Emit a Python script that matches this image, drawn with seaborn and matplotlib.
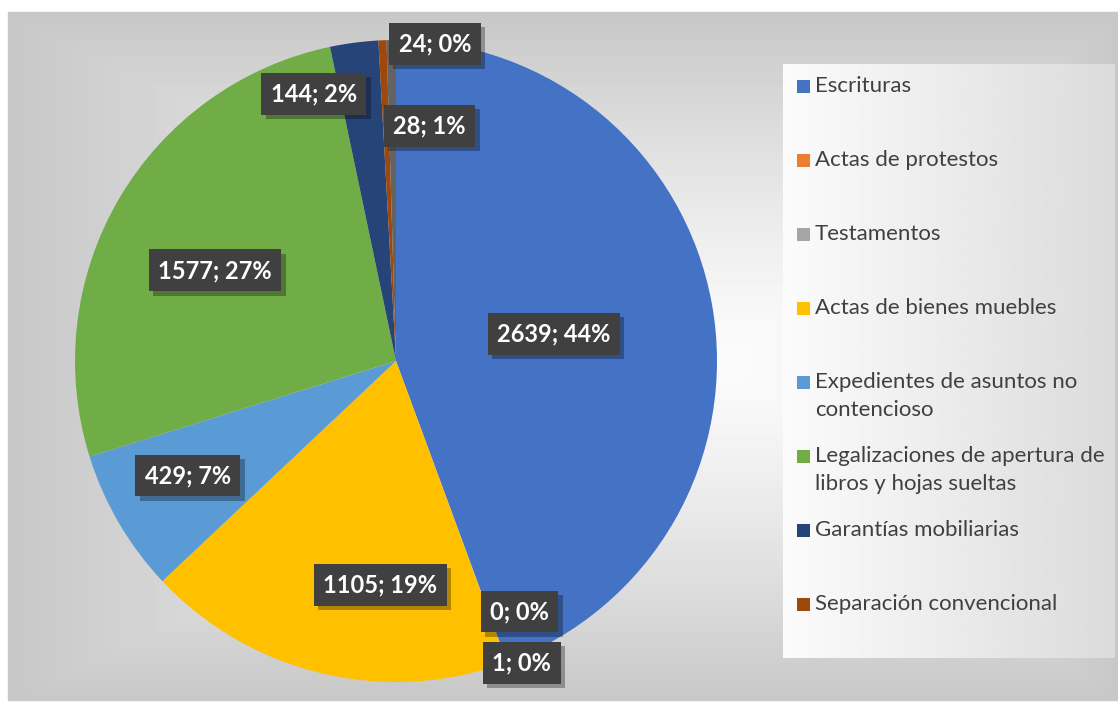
import numpy as np
import matplotlib
matplotlib.use("Agg")
import matplotlib.pyplot as plt
import matplotlib.patheffects as pe
from matplotlib.patches import Rectangle
import seaborn as sns

# datos
categorias = ["Escrituras", "Actas de protestos", "Testamentos", "Actas de bienes muebles",
              "Expedientes de asuntos no\ncontencioso",
              "Legalizaciones de apertura de\nlibros y hojas sueltas",
              "Garantías mobiliarias", "Separación convencional", "Otros"]
valores = [2639, 0, 1, 1105, 429, 1577, 144, 24, 28]
colores = ["#4472C4", "#ED7D31", "#A5A5A5", "#FFC000", "#5B9BD5",
           "#70AD47", "#264478", "#9E480E", "#636363"]
n_leyenda = 8  # la leyenda del original solo muestra 8

# ajuste de etiquetas (estilo "best fit" de Excel): radio y giro en grados
lab_r = [0.50, 0.87, 1.02, 0.70, 0.74, 0.63, 0.87, 0.995, 0.74]
lab_giro = [-0.3, 6.0, 2.4, 9.2, -1.5, 3.8, 9.6, -9.4, -9.0]

# porcentajes redondeados como Excel (suman 100)
vals = np.array(valores, dtype=float)
raw = vals / vals.sum() * 100
pct = np.floor(raw).astype(int)
resto = raw - pct
for k in np.argsort(-resto)[:100 - pct.sum()]:
    pct[k] += 1

sns.set_theme(style="white")
plt.rcParams['font.family'] = ['Lato', 'DejaVu Sans']

W, H = 1118, 704
fig = plt.figure(figsize=(W / 100, H / 100), dpi=100)
fig.patch.set_facecolor("white")

# fondo
bg = fig.add_axes([0, 0, 1, 1])
bg.set_xlim(0, W)
bg.set_ylim(H, 0)
bg.axis("off")
x0, x1, y0, y1 = 8, 1118, 12, 700
cx, cy = 730, 360
xx, yy = np.meshgrid(np.arange(x0, x1), np.arange(y0, y1))
dx = np.where(xx < cx, (cx - xx) / (cx - x0), (xx - cx) / (x1 - cx))
dy = np.where(yy < cy, (cy - yy) / (cy - y0), (yy - cy) / (y1 - cy))
d = np.clip(np.maximum(dx, dy), 0, 1) ** 1.3
grad = 0.985 - (0.985 - 0.78) * d
bg.imshow(grad, cmap="gray", vmin=0, vmax=1, extent=[x0, x1, y1, y0],
          aspect="auto", interpolation="bilinear")
bg.add_patch(Rectangle((x0, y0), x1 - x0, y1 - y0, fill=False, edgecolor="#c8c8c8", lw=1))

# caja de leyenda
lx0, lx1, ly0, ly1 = 783, 1115, 64, 658
lg = np.tile(np.linspace(0.985, 0.86, 200), (10, 1))
bg.imshow(lg, cmap="gray", vmin=0, vmax=1, extent=[lx0, lx1, ly1, ly0],
          aspect="auto", interpolation="bilinear", zorder=2)
for i in range(n_leyenda):
    yc = 86 + 74 * i
    bg.add_patch(Rectangle((797, yc - 6.5), 13, 13, facecolor=colores[i],
                           edgecolor="none", zorder=3))
    for k, linea in enumerate(categorias[i].split("\n")):
        bg.text(815, yc + 28 * k, linea, fontsize=16, color="#404040",
                va="center", ha="left", zorder=3)

# pastel
r_px = 321
ax = fig.add_axes([(396 - r_px) / W, (H - 361 - r_px) / H, 2 * r_px / W, 2 * r_px / H])
ax.set_facecolor("none")
wedges, _ = ax.pie(valores, colors=sns.color_palette(colores), startangle=90,
                   counterclock=False, radius=1, wedgeprops=dict(linewidth=0))
ax.set_xlim(-1, 1)
ax.set_ylim(-1, 1)
ax.set_aspect("equal")
ax.axis("off")

for i, w in enumerate(wedges):
    mid = np.deg2rad((w.theta1 + w.theta2) / 2 + lab_giro[i])
    x, y = lab_r[i] * np.cos(mid), lab_r[i] * np.sin(mid)
    t = ax.text(x, y, f"{valores[i]}; {pct[i]}%", ha="center", va="center", fontsize=17,
                fontweight="bold", color="white", clip_on=False,
                bbox=dict(boxstyle="square,pad=0.4", facecolor="#404040", edgecolor="none"))
    t.get_bbox_patch().set_path_effects(
        [pe.withSimplePatchShadow(offset=(3, -3), shadow_rgbFace="black", alpha=0.3)])

fig.savefig("out.png", dpi=100)
